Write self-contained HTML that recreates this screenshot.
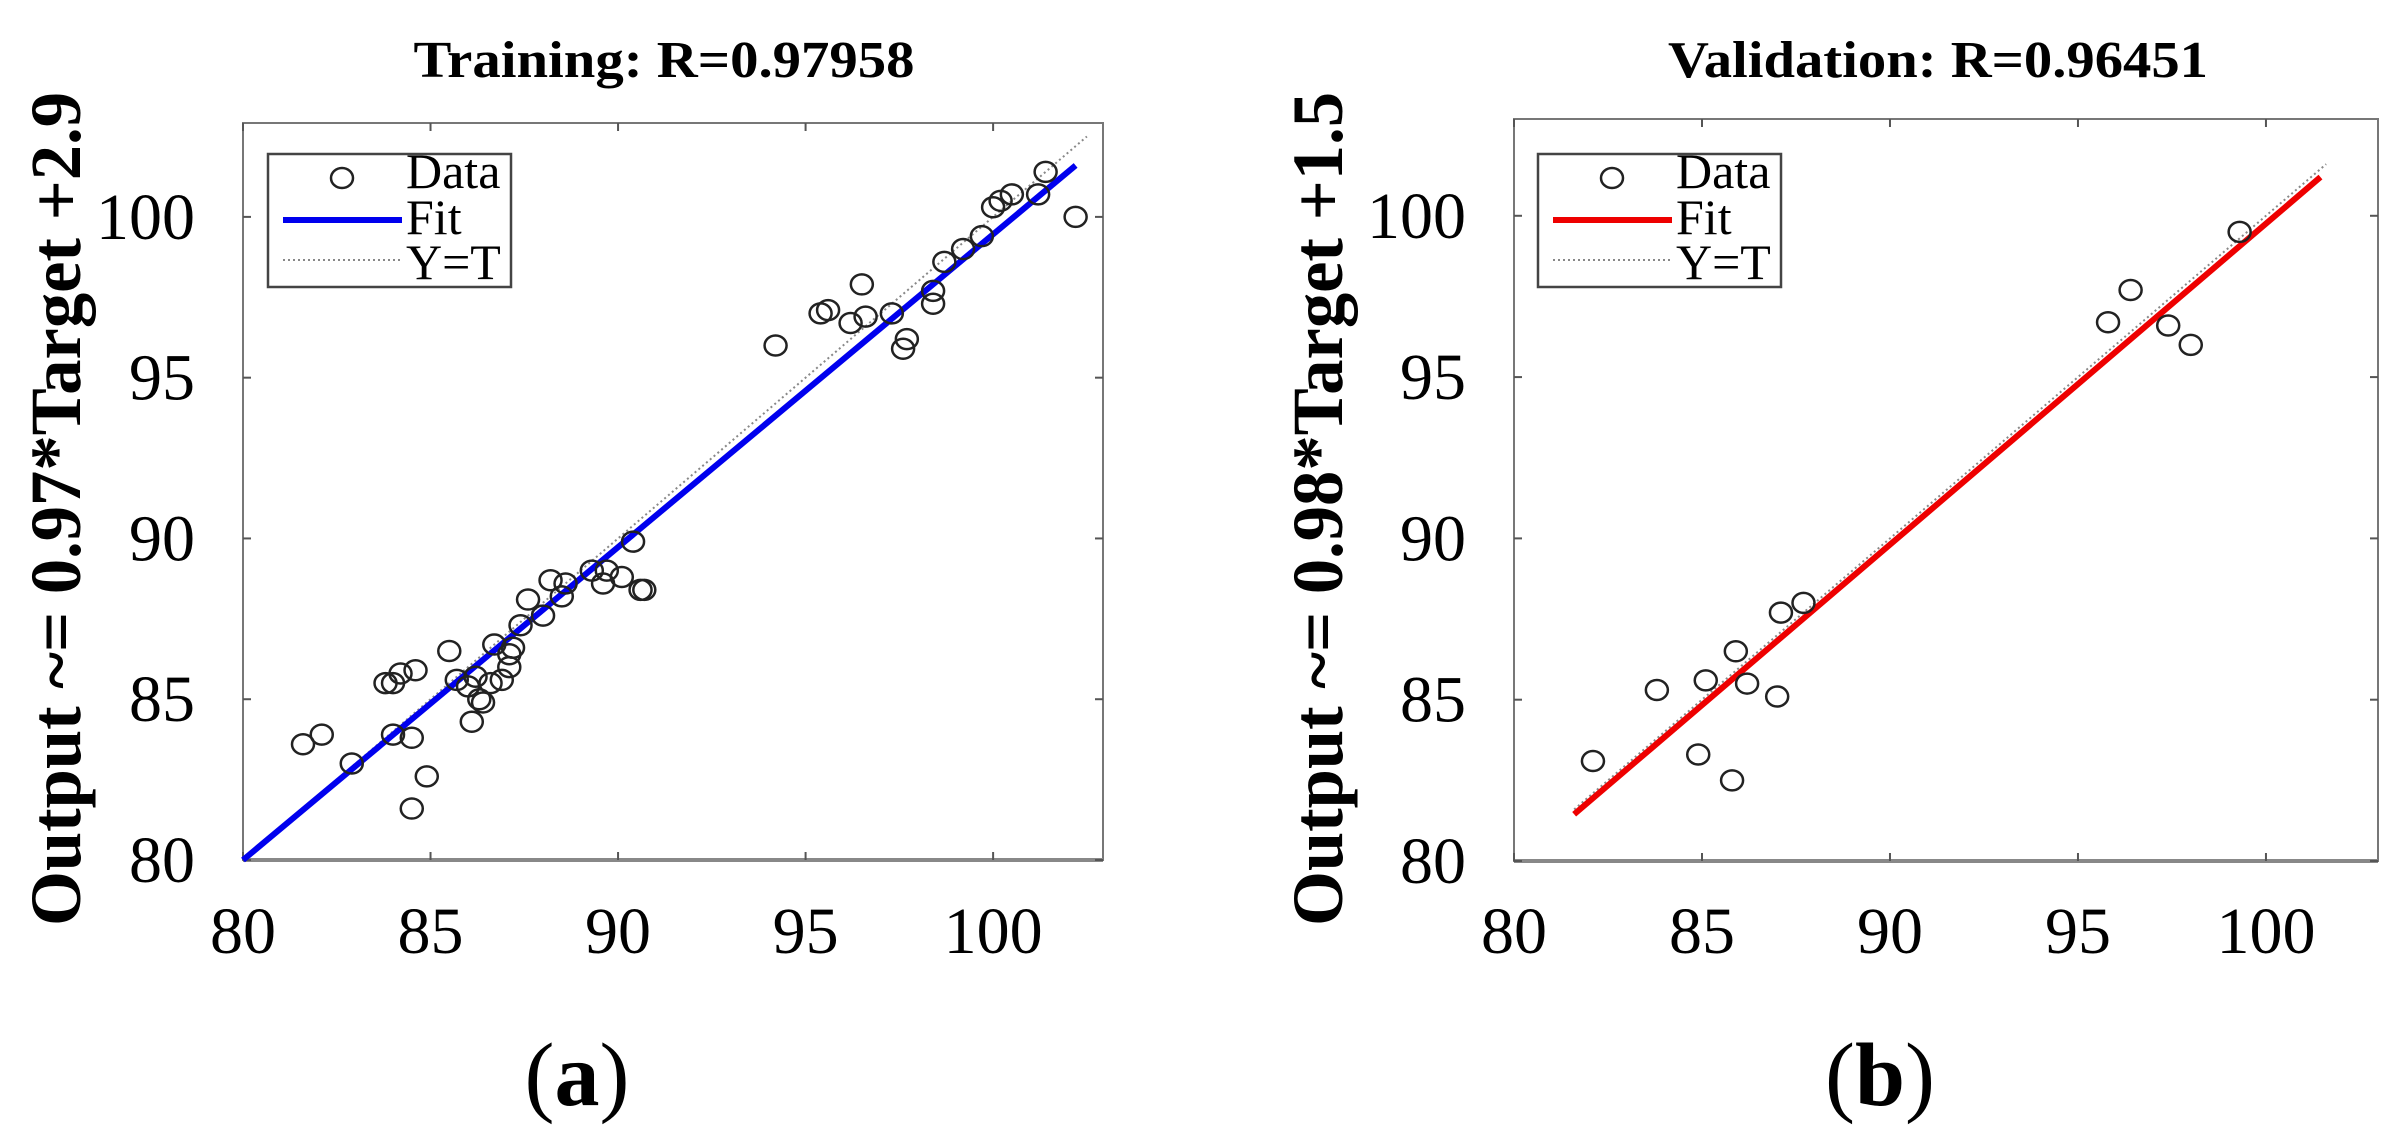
<!DOCTYPE html>
<html><head><meta charset="utf-8"><style>
html,body{margin:0;padding:0;background:#fff;}
svg{display:block;}
text{font-family:"Liberation Serif",serif;}
</style></head><body>
<svg id="fig" width="2405" height="1148" viewBox="0 0 2405 1148"></svg>
<script>
// ---- Data (a) Training ----
const trainTarget = [81.6,82.1,82.9,83.8,84.0,84.2,84.0,84.5,84.6,84.5,84.9,85.5,85.7,86.0,86.2,86.1,86.3,86.4,86.6,86.9,86.7,87.1,87.1,87.2,87.4,87.6,88.0,88.2,88.5,88.6,89.3,89.6,89.7,90.1,90.4,90.6,90.7,94.2,95.4,95.6,96.2,96.5,96.6,97.3,97.6,97.7,98.4,98.4,98.7,99.2,99.7,100.0,100.2,100.5,101.2,101.4,102.2];
const trainOutput = [83.6,83.9,83.0,85.5,85.5,85.8,83.9,83.8,85.9,81.6,82.6,86.5,85.6,85.4,85.7,84.3,85.0,84.9,85.5,85.6,86.7,86.0,86.4,86.6,87.3,88.1,87.6,88.7,88.2,88.6,89.0,88.6,89.0,88.8,89.9,88.4,88.4,96.0,97.0,97.1,96.7,97.9,96.9,97.0,95.9,96.2,97.7,97.3,98.6,99.0,99.4,100.3,100.5,100.7,100.7,101.4,100.0];
const trainFitX = [80.0,102.2];
const trainFitY = [80.0,101.6];
const trainIdent = [80.0,102.5];
// ---- Data (b) Validation ----
const valTarget = [82.1,83.8,84.9,85.1,85.8,85.9,86.2,87.0,87.1,87.7,95.8,96.4,97.4,98.0,99.3];
const valOutput = [83.1,85.3,83.3,85.6,82.5,86.5,85.5,85.1,87.7,88.0,96.7,97.7,96.6,96.0,99.5];
const valFitX = [81.6,101.45];
const valFitY = [81.45,101.2];
const valIdent = [81.6,101.6];
const tickValues = [80,85,90,95,100];

const NS="http://www.w3.org/2000/svg";
const svg=document.getElementById('fig');
function mk(tag,attrs,parent){const e=document.createElementNS(NS,tag);for(const k in attrs)e.setAttribute(k,attrs[k]);(parent||svg).appendChild(e);return e;}

function panel(cfg){
  const g=mk('g',{});
  
  
  const {L,R,T,B,x0,x1,y0,y1}=cfg;
  const sx=v=>L+(v-x0)/(x1-x0)*(R-L);
  const sy=v=>B-(v-y0)/(y1-y0)*(B-T);
  // title
  const t=mk('text',{x:cfg.titleX,y:77,'text-anchor':'middle','font-size':52,'font-weight':'bold',textLength:cfg.titleW,lengthAdjust:'spacingAndGlyphs'},g);
  t.textContent=cfg.title;
  
  
  // ylabel
  const yl=mk('text',{x:0,y:0,'text-anchor':'middle','font-size':72,'font-weight':'bold',transform:`translate(${cfg.ylabX},${509}) rotate(-90)`,textLength:834,lengthAdjust:'spacingAndGlyphs'},g);
  yl.textContent=cfg.ylabel;
  
  
  // axes box
  const box=mk('rect',{x:L,y:T,width:R-L,height:B-T,fill:'none',stroke:'#777','stroke-width':2},g);
  
  
  mk('line',{x1:L,x2:R,y1:B,y2:B,stroke:'#888','stroke-width':4},g);
  // ticks
  tickValues.forEach(v=>{
    const x=sx(v),y=sy(v);
    mk('line',{x1:x,x2:x,y1:B,y2:B-8,stroke:'#555','stroke-width':2},g);
    mk('line',{x1:x,x2:x,y1:T,y2:T+8,stroke:'#555','stroke-width':2},g);
    mk('line',{x1:L,x2:L+8,y1:y,y2:y,stroke:'#555','stroke-width':2},g);
    mk('line',{x1:R,x2:R-8,y1:y,y2:y,stroke:'#555','stroke-width':2},g);
    const xt=mk('text',{x:x,y:953,'text-anchor':'middle','font-size':66},g);
    xt.textContent=v;
    
    
    const yt=mk('text',{x:L-48,y:y+22,'text-anchor':'end','font-size':66},g);
    yt.textContent=v;
    
    
  });
  // identity line
  const id=mk('line',{x1:sx(cfg.ident[0]),y1:sy(cfg.ident[0]),x2:sx(cfg.ident[1]),y2:sy(cfg.ident[1]),stroke:'#888','stroke-width':2,'stroke-dasharray':'2 3'},g);
  
  
  // fit line
  const fl=mk('line',{x1:sx(cfg.fitX[0]),y1:sy(cfg.fitY[0]),x2:sx(cfg.fitX[1]),y2:sy(cfg.fitY[1]),stroke:cfg.color,'stroke-width':6},g);
  
  
  // points
  cfg.xs.forEach((v,i)=>{
    const c=mk('ellipse',{cx:sx(v),cy:sy(cfg.ys[i]),rx:11,ry:10,fill:'none',stroke:'#222','stroke-width':2.5},g);
    
    
  });
  // legend
  const lg=mk('g',{},g);
  
  
  const lx=cfg.legX;
  mk('rect',{x:lx,y:154,width:243,height:133,fill:'#fff',stroke:'#444','stroke-width':2.5},lg);
  mk('ellipse',{cx:lx+74,cy:178,rx:11,ry:10,fill:'none',stroke:'#222','stroke-width':2.5},lg);
  mk('line',{x1:lx+15,x2:lx+134,y1:220,y2:220,stroke:cfg.color,'stroke-width':6},lg);
  mk('line',{x1:lx+15,x2:lx+134,y1:260,y2:260,stroke:'#888','stroke-width':2,'stroke-dasharray':'2 3'},lg);
  [['Data',188],['Fit',234],['Y=T',279]].forEach(([s,y])=>{
    const tx=mk('text',{x:lx+138,y:y,'font-size':50},lg);tx.textContent=s;
    
    
  });
  // subfig label
  const sl=mk('text',{x:cfg.subX,y:1105,'text-anchor':'middle','font-size':90},g);
  sl.innerHTML='(<tspan font-weight="bold">'+cfg.sub+'</tspan>)';
  
  
}
panel({name:'training-panel',L:243,R:1103,T:123,B:860,x0:80,x1:102.93,y0:80,y1:102.92,
  title:'Training: R=0.97958',titleX:664,titleW:501,ylabel:'Output ~= 0.97*Target +2.9',ylabX:80,
  xs:trainTarget,ys:trainOutput,fitX:trainFitX,fitY:trainFitY,ident:trainIdent,color:'#0000ee',legX:268,sub:'a',subX:577});
panel({name:'validation-panel',L:1514,R:2378,T:119,B:861,x0:80,x1:102.98,y0:80,y1:103.0,
  title:'Validation: R=0.96451',titleX:1938,titleW:540,ylabel:'Output ~= 0.98*Target +1.5',ylabX:1342,
  xs:valTarget,ys:valOutput,fitX:valFitX,fitY:valFitY,ident:valIdent,color:'#ee0000',legX:1538,sub:'b',subX:1880});
</script>
</body></html>
